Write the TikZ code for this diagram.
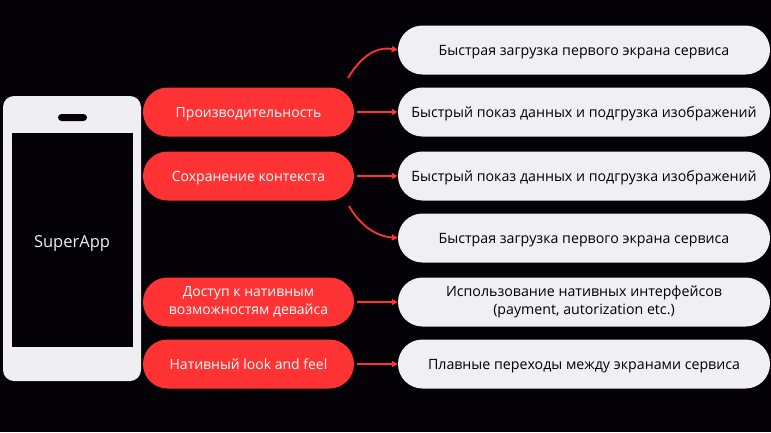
\documentclass[tikz,border=0pt]{standalone}
\usepackage{fontspec}
\setmainfont{Open Sans}
\usetikzlibrary{arrows.meta}
\definecolor{bg}{HTML}{040207}
\definecolor{yred}{HTML}{FF3333}
\definecolor{pill}{HTML}{F0EFF4}
\definecolor{phone}{HTML}{EFEEF3}
\tikzset{
  pillbase/.style={rounded corners=24.5pt, minimum height=49pt, align=center, inner sep=0pt},
  redpill/.style={pillbase, fill=yred, minimum width=211pt, text=white, font=\fontsize{14}{18}\selectfont},
  graypill/.style={pillbase, fill=pill, minimum width=372pt, text=black, font=\fontsize{14.2}{18}\selectfont},
  oneline/.style={text height=13pt, text depth=3pt},
  conn/.style={draw=yred, line width=1.8pt, -{Triangle[length=6pt,width=6pt]}}
}
\begin{document}
\begin{tikzpicture}[x=1pt,y=-1pt]
\fill[bg] (0,0) rectangle (771,432);
\useasboundingbox (0,0) rectangle (771,432);
% phone
\fill[phone, rounded corners=11pt] (3,96) rectangle (141,381);
\fill[bg] (12,133) rectangle (133,347);
\fill[bg, rounded corners=3.5pt] (58,114) rectangle (87,121);
\node[text=phone, font=\fontsize{16.5}{18}\selectfont] (app) at (72,244) {SuperApp};
% red pills
\node[redpill, oneline] (r1) at (248.5,112) {Производительность};
\node[redpill, oneline] (r2) at (248.5,176) {Сохранение контекста};
\node[redpill] (r3) at (248.5,302) {Доступ к нативным\\возможностям девайса};
\node[redpill, oneline] (r4) at (248.5,364) {Нативный look and feel};
% gray pills
\node[graypill, oneline] (g1) at (584,50) {Быстрая загрузка первого экрана сервиса};
\node[graypill, oneline] (g2) at (584,112) {Быстрый показ данных и подгрузка изображений};
\node[graypill, oneline] (g3) at (584,176) {Быстрый показ данных и подгрузка изображений};
\node[graypill, oneline] (g4) at (584,238) {Быстрая загрузка первого экрана сервиса};
\node[graypill] (g5) at (584,302) {Использование нативных интерфейсов\\(payment, autorization etc.)};
\node[graypill, oneline] (g6) at (584,364) {Плавные переходы между экранами сервиса};
% connectors
\coordinate (c1) at (348,78);
\coordinate (c2) at (349,206);
\draw[conn] (c1) .. controls (360,58) and (375,46) .. (g1.west);
\draw[conn] (c2) .. controls (360,225) and (375,236) .. (g4.west);
\draw[conn] (r1.east) ++(3,0) -- (g2.west);
\draw[conn] (r2.east) ++(3,0) -- (g3.west);
\draw[conn] (r3.east) ++(3,0) -- (g5.west);
\draw[conn] (r4.east) ++(3,0) -- (g6.west);
\end{tikzpicture}
\end{document}
